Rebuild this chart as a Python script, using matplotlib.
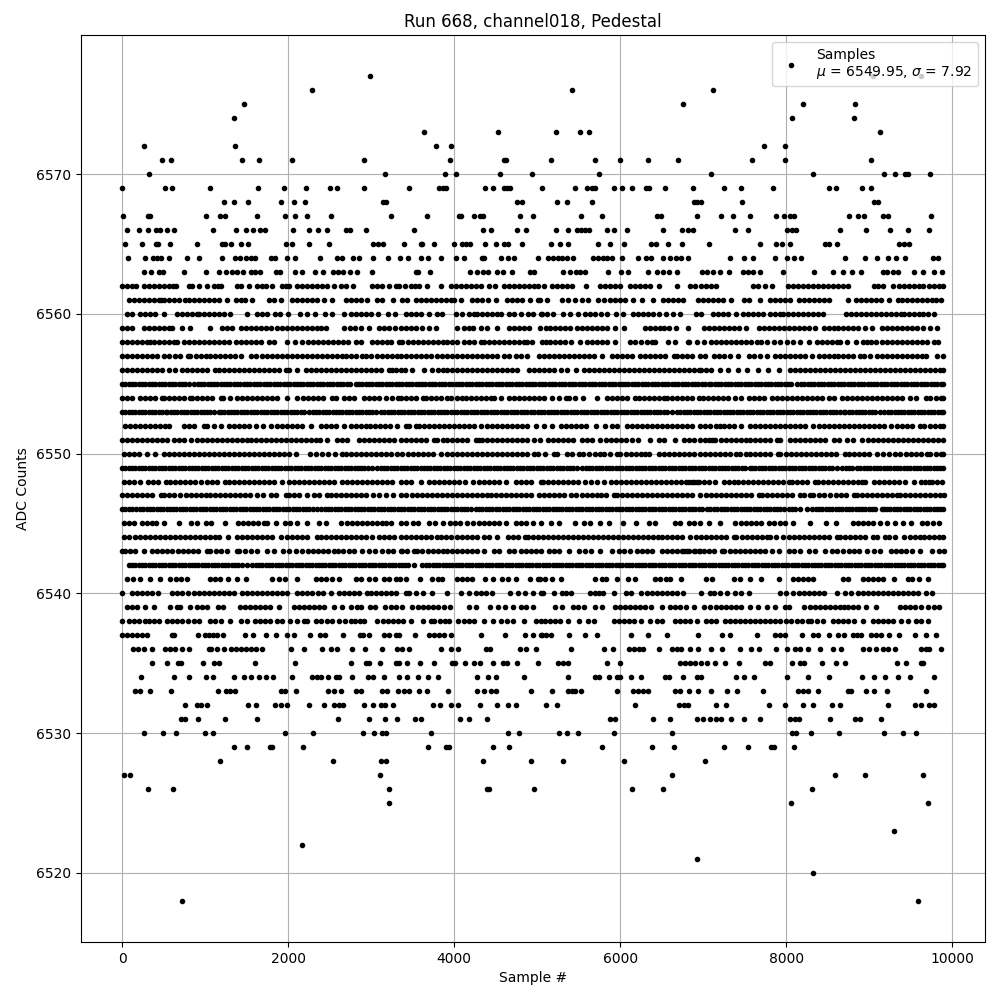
import matplotlib
matplotlib.use('Agg')
import matplotlib.pyplot as plt

# sample numbers, one list per ADC level
adc_6577 = [2987, 9042, 9623]
adc_6576 = [2287, 5423, 7118]
adc_6575 = [1467, 6757, 8200, 8826]
adc_6574 = [1347, 8068, 8814]
adc_6573 = [3638, 4530, 5230, 5519, 5627, 9126]
adc_6572 = [261, 1359, 3783, 3964, 7731, 7984]
adc_6571 = [478, 587, 1443, 1648, 2046, 2914, 3952, 4599, 4623, 5170, 5699, 6000, 6337, 6697, 7587, 7984, 9018]
adc_6570 = [322, 3168, 3891, 4024, 4555, 4941, 5748, 7094, 8321, 9174, 9307, 9427, 9463, 9727]
adc_6569 = [0, 515, 599, 1057, 1636, 1950, 2215, 2504, 2589, 2914, 3457, 3819, 3860, 3903, 4374, 4466, 4603, 4635,
            4675, 5062, 5459, 5595, 5655, 5699, 5924, 6020, 6144, 6309, 6349, 6541, 6878, 7250, 7455, 7840, 8513, 8597,
            8910, 9018]
adc_6568 = [1226, 1347, 1516, 1914, 2070, 2203, 3144, 3180, 4756, 4812, 5242, 5363, 5663, 6886, 6930, 6978, 7467, 9062,
            9102]
adc_6567 = [8, 310, 342, 1009, 1182, 1238, 1624, 1962, 2086, 2227, 2517, 3240, 3674, 4060, 4080, 4241, 4314, 4346, 4796,
            4953, 5531, 5784, 6445, 6497, 6926, 7218, 7359, 7563, 7876, 7972, 8040, 8100, 8754, 8862, 8942, 9170, 9222,
            9743]
adc_6566 = [60, 201, 310, 406, 454, 539, 623, 1093, 1371, 1491, 1576, 1660, 1721, 2058, 2251, 2360, 2468, 2697, 2746,
            2939, 3518, 4350, 4446, 4760, 4868, 5230, 5375, 5475, 5530, 5580, 5627, 5844, 5928, 6084, 6517, 6745, 6818,
            6878, 7383, 7539, 8012, 8065, 8120, 8645, 8958, 9246, 9463, 9715]
adc_6565 = [32, 237, 406, 430, 575, 900, 1202, 1234, 1310, 1431, 1516, 1974, 2050, 2251, 2492, 3019, 3080, 3140, 3397,
            3602, 3614, 3759, 4000, 4096, 4145, 4193, 4374, 4507, 4603, 4651, 4820, 5162, 5275, 5375, 5735, 5872, 6048,
            6377, 6437, 6577, 6745, 7070, 7679, 7880, 7948, 8044, 8469, 8521, 8609, 9363, 9420, 9483]
adc_6564 = [76, 273, 370, 422, 474, 563, 780, 925, 1202, 1359, 1419, 1491, 1548, 1596, 1789, 1837, 1986, 2082, 2384,
            2589, 2649, 2782, 2854, 3023, 3204, 3349, 3445, 3602, 3686, 3839, 4024, 4121, 4334, 4362, 4567, 4643, 4724,
            5013, 5134, 5190, 5250, 5300, 5355, 5435, 5675, 5730, 5788, 5836, 5896, 6024, 6216, 6317, 6377, 6517, 6605,
            6670, 6737, 6818, 7323, 7491, 7599, 7864, 8008, 8100, 8180, 8705, 8946, 9090, 9222, 9323, 9427, 9771, 9832]
adc_6563 = [261, 346, 442, 490, 740, 1009, 1166, 1250, 1323, 1379, 1455, 1548, 1600, 1656, 1857, 1897, 2086, 2167, 2324,
            2420, 2541, 2601, 2661, 2746, 2826, 3011, 3538, 3566, 3710, 4193, 4273, 4346, 4402, 4519, 4591, 4700, 4916,
            4964, 5315, 5395, 5467, 5520, 5575, 5856, 6008, 6096, 6337, 6445, 6515, 6589, 6685, 6982, 7050, 7118, 7202,
            7311, 7479, 7540, 7600, 7679, 7960, 8341, 8561, 8689, 8794, 8902, 9162, 9220, 9283, 9343, 9539, 9651, 9784,
            9876]
adc_6562 = [0, 60, 120, 169, 261, 320, 380, 440, 500, 560, 610, 655, 804, 844, 925, 1017, 1113, 1150, 1194, 1387, 1435,
            1528, 1620, 1680, 1729, 1805, 1930, 1975, 2014, 2110, 2170, 2230, 2290, 2350, 2410, 2470, 2553, 2633, 2693,
            2782, 3015, 3075, 3136, 3216, 3297, 3337, 3405, 3477, 3530, 3578, 3675, 3843, 3960, 4020, 4080, 4140, 4200,
            4260, 4322, 4422, 4494, 4603, 4665, 4725, 4785, 4845, 4905, 4960, 5005, 5082, 5174, 5235, 5295, 5355, 5415,
            5583, 5756, 5815, 5875, 5935, 5996, 6116, 6175, 6235, 6295, 6357, 6465, 6685, 6838, 6900, 6978, 7038, 7100,
            7158, 7599, 7659, 7739, 7832, 8020, 8080, 8140, 8200, 8260, 8320, 8380, 8440, 8500, 8560, 8620, 8680, 8741,
            9062, 9110, 9162, 9291, 9363, 9425, 9485, 9545, 9600, 9643, 9723, 9780, 9840, 9890]
adc_6561 = [80, 140, 200, 260, 320, 380, 440, 470, 502, 560, 620, 680, 752, 804, 864, 925, 985, 1045, 1105, 1165, 1266,
            1371, 1427, 1475, 1560, 1769, 1830, 1910, 2050, 2110, 2170, 2230, 2290, 2350, 2432, 2533, 2693, 2755, 2815,
            2874, 2955, 3075, 3136, 3268, 3377, 3429, 3538, 3600, 3660, 3719, 3779, 3840, 3900, 3960, 4000, 4080, 4221,
            4280, 4340, 4402, 4507, 4635, 4695, 4755, 4812, 4917, 5005, 5034, 5118, 5295, 5375, 5455, 5535, 5615, 5736,
            5800, 5876, 5936, 6000, 6060, 6156, 6265, 6397, 6517, 6580, 6640, 6700, 6757, 6938, 7000, 7060, 7120, 7180,
            7240, 7335, 7495, 7555, 7687, 7800, 7860, 7920, 7980, 8040, 8160, 8220, 8280, 8340, 8400, 8460, 8521, 8741,
            8841, 8900, 8960, 9020, 9080, 9140, 9242, 9342, 9400, 9460, 9520, 9580, 9640, 9700, 9760, 9804, 9864]
adc_6560 = [60, 120, 213, 281, 340, 402, 502, 663, 725, 785, 845, 904, 925, 985, 1045, 1105, 1165, 1225, 1298, 1507,
            1628, 1690, 1749, 1837, 1900, 1998, 2138, 2231, 2324, 2440, 2533, 2673, 2754, 2815, 2875, 2935, 2995, 3083,
            3204, 3288, 3417, 3480, 3540, 3600, 3698, 3799, 3859, 4020, 4100, 4181, 4241, 4281, 4340, 4400, 4460, 4520,
            4563, 4663, 4725, 4804, 4884, 4945, 5045, 5054, 5120, 5194, 5315, 5395, 5495, 5575, 5640, 5700, 5770, 5836,
            5948, 6036, 6156, 6220, 6280, 6340, 6397, 6469, 6549, 6637, 6717, 6918, 6978, 7118, 7180, 7240, 7300, 7399,
            7479, 7540, 7600, 7660, 7719, 7800, 7860, 7920, 7960, 8020, 8080, 8140, 8200, 8260, 8320, 8380, 8441, 8721,
            8780, 8840, 8900, 8960, 9020, 9080, 9140, 9200, 9260, 9320, 9383, 9423, 9480, 9540, 9600, 9643, 9703, 9784]
adc_6559 = [0, 60, 120, 261, 320, 380, 440, 500, 560, 603, 724, 816, 1057, 1206, 1266, 1326, 1427, 1490, 1550, 1610,
            1670, 1730, 1790, 1869, 1930, 1990, 2050, 2110, 2170, 2230, 2290, 2350, 2400, 2452, 2672, 2740, 2810, 2880,
            2974, 3095, 3160, 3220, 3290, 3357, 3420, 3477, 3537, 3618, 3698, 3778, 4039, 4119, 4180, 4231, 4319, 4400,
            4520, 4660, 4720, 4780, 4840, 4900, 5033, 5101, 5160, 5220, 5280, 5340, 5400, 5480, 5542, 5603, 5660, 5720,
            5780, 5843, 5943, 6043, 6304, 6365, 6420, 6480, 6530, 6585, 6669, 6814, 7007, 7070, 7130, 7190, 7250, 7310,
            7370, 7429, 7521, 7670, 7730, 7790, 7850, 7910, 7970, 8030, 8090, 8150, 8210, 8280, 8351, 8450, 8510, 8570,
            8630, 8690, 8750, 8810, 8870, 8950, 9030, 9150, 9210, 9270, 9330, 9390, 9450, 9510, 9570, 9650, 9735, 9815]
adc_6558 = [0, 60, 120, 180, 240, 300, 342, 382, 440, 500, 560, 620, 663, 744, 805, 865, 925, 985, 1045, 1105, 1165,
            1225, 1285, 1367, 1427, 1490, 1550, 1610, 1670, 1769, 1829, 1990, 2078, 2171, 2239, 2300, 2360, 2420, 2480,
            2540, 2600, 2660, 2720, 2814, 2874, 3015, 3075, 3135, 3196, 3236, 3337, 3377, 3440, 3500, 3560, 3620, 3680,
            3740, 3800, 3860, 3920, 3980, 4039, 4119, 4180, 4240, 4319, 4360, 4420, 4480, 4540, 4600, 4660, 4720, 4780,
            4840, 4881, 4941, 5061, 5101, 5160, 5220, 5280, 5340, 5402, 5522, 5603, 5663, 5720, 5780, 5840, 5943, 6116,
            6184, 6250, 6320, 6385, 6425, 6577, 6665, 6814, 6827, 6926, 7007, 7096, 7160, 7220, 7280, 7340, 7400, 7460,
            7520, 7580, 7650, 7697, 7770, 7850, 7922, 8010, 8082, 8162, 8270, 8370, 8430, 8490, 8550, 8612, 8644, 8732,
            8844, 8930, 8972, 9020, 9080, 9153, 9213, 9275, 9335, 9395, 9455, 9515, 9575, 9635, 9695, 9775, 9823]
adc_6557 = [0, 60, 120, 180, 240, 300, 360, 420, 503, 563, 643, 703, 792, 824, 885, 945, 1005, 1065, 1125, 1185, 1245,
            1305, 1365, 1427, 1548, 1608, 1688, 1750, 1810, 1870, 1930, 1990, 2050, 2110, 2170, 2230, 2290, 2350, 2410,
            2470, 2530, 2590, 2653, 2693, 2755, 2815, 2894, 2934, 2994, 3075, 3135, 3195, 3255, 3315, 3357, 3420, 3480,
            3540, 3600, 3660, 3718, 3798, 3858, 3920, 3980, 4040, 4100, 4160, 4220, 4280, 4340, 4400, 4460, 4520, 4600,
            4660, 4740, 4800, 4873, 5021, 5080, 5140, 5200, 5260, 5320, 5380, 5440, 5500, 5560, 5620, 5680, 5783, 5903,
            5965, 6025, 6085, 6145, 6236, 6304, 6365, 6425, 6485, 6545, 6645, 6685, 6745, 6805, 6865, 6966, 7028, 7128,
            7190, 7250, 7328, 7421, 7549, 7610, 7680, 7770, 7870, 7930, 7990, 8050, 8110, 8170, 8230, 8310, 8391, 8450,
            8510, 8570, 8630, 8690, 8750, 8810, 8893, 8933, 9013, 9093, 9155, 9215, 9275, 9335, 9395, 9455, 9515, 9575,
            9634, 9686, 9815, 9895]
adc_6556 = [0, 60, 120, 180, 240, 300, 360, 422, 478, 563, 643, 724, 785, 845, 905, 965, 1025, 1125, 1166, 1226, 1290,
            1350, 1410, 1470, 1530, 1590, 1650, 1710, 1770, 1830, 1890, 1970, 2010, 2110, 2211, 2271, 2335, 2395, 2455,
            2515, 2575, 2635, 2695, 2755, 2815, 2875, 2935, 2995, 3055, 3115, 3216, 3256, 3297, 3357, 3405, 3497, 3638,
            3738, 3800, 3860, 3920, 3980, 4040, 4100, 4160, 4220, 4280, 4340, 4400, 4460, 4520, 4580, 4640, 4700, 4760,
            4901, 4965, 5025, 5085, 5145, 5205, 5282, 5354, 5462, 5562, 5623, 5685, 5745, 5805, 5865, 5925, 5985, 6045,
            6105, 6165, 6225, 6285, 6345, 6405, 6465, 6525, 6585, 6645, 6705, 6765, 6825, 6885, 6948, 6976, 7040, 7100,
            7200, 7300, 7417, 7529, 7657, 7777, 7910, 8050, 8110, 8170, 8230, 8290, 8350, 8410, 8470, 8530, 8590, 8650,
            8710, 8770, 8830, 8890, 8950, 9010, 9070, 9130, 9190, 9250, 9310, 9370, 9430, 9490, 9550, 9610, 9670, 9730,
            9790, 9850, 9895]
adc_6555 = [0, 40, 80, 120, 160, 200, 240, 280, 320, 360, 400, 440, 480, 520, 560, 600, 640, 680, 720, 763, 804, 864,
            912, 950, 990, 1030, 1070, 1110, 1145, 1186, 1225, 1265, 1305, 1345, 1385, 1425, 1465, 1505, 1545, 1585,
            1625, 1665, 1705, 1745, 1785, 1825, 1865, 1905, 1945, 1985, 2025, 2065, 2105, 2145, 2185, 2225, 2265, 2305,
            2345, 2385, 2425, 2465, 2505, 2545, 2585, 2625, 2665, 2705, 2745, 2814, 2854, 2895, 2935, 2975, 3015, 3055,
            3095, 3135, 3175, 3215, 3255, 3295, 3335, 3375, 3415, 3455, 3495, 3535, 3575, 3615, 3655, 3695, 3735, 3775,
            3815, 3855, 3895, 3935, 3979, 4019, 4060, 4100, 4140, 4180, 4220, 4260, 4300, 4340, 4380, 4420, 4460, 4500,
            4540, 4580, 4620, 4660, 4700, 4740, 4780, 4820, 4860, 4900, 4940, 4980, 5020, 5060, 5100, 5140, 5180, 5220,
            5260, 5300, 5340, 5380, 5420, 5460, 5500, 5540, 5580, 5620, 5660, 5700, 5740, 5780, 5820, 5860, 5900, 5940,
            5980, 6020, 6060, 6100, 6140, 6180, 6220, 6260, 6300, 6340, 6380, 6420, 6460, 6500, 6540, 6580, 6620, 6660,
            6700, 6740, 6780, 6820, 6860, 6900, 6940, 6980, 7020, 7068, 7096, 7140, 7180, 7220, 7260, 7300, 7340, 7380,
            7420, 7460, 7500, 7540, 7580, 7620, 7660, 7700, 7740, 7780, 7820, 7860, 7900, 7940, 7980, 8020, 8060, 8130,
            8179, 8220, 8260, 8300, 8340, 8380, 8420, 8460, 8500, 8540, 8580, 8620, 8660, 8700, 8740, 8780, 8820, 8860,
            8900, 8940, 8980, 9020, 9060, 9100, 9140, 9180, 9220, 9260, 9300, 9340, 9380, 9420, 9460, 9500, 9540, 9580,
            9620, 9660, 9700, 9740, 9780, 9820, 9860, 9895]
adc_6554 = [0, 60, 120, 221, 281, 340, 400, 482, 503, 565, 625, 685, 745, 816, 844, 905, 965, 1025, 1085, 1186, 1218,
            1300, 1387, 1447, 1510, 1570, 1630, 1690, 1750, 1810, 1870, 1990, 2110, 2175, 2235, 2295, 2355, 2415, 2533,
            2581, 2673, 2735, 2795, 2914, 2974, 3035, 3095, 3176, 3256, 3320, 3357, 3420, 3480, 3540, 3630, 3658, 3720,
            3780, 3840, 3918, 3958, 4030, 4099, 4139, 4200, 4260, 4320, 4380, 4440, 4480, 4560, 4660, 4720, 4780, 4840,
            4900, 4960, 5020, 5080, 5182, 5262, 5342, 5382, 5450, 5555, 5723, 5843, 5905, 5965, 6025, 6085, 6184, 6224,
            6285, 6345, 6405, 6465, 6525, 6565, 6630, 6690, 6750, 6810, 6870, 6946, 7000, 7060, 7120, 7180, 7240, 7300,
            7389, 7457, 7549, 7610, 7670, 7730, 7830, 7890, 7950, 8010, 8070, 8130, 8190, 8250, 8310, 8370, 8430, 8511,
            8572, 8672, 8735, 8795, 8855, 8915, 8975, 9035, 9095, 9155, 9215, 9275, 9335, 9395, 9494, 9562, 9682, 9735,
            9800, 9860, 9895]
adc_6553 = [0, 40, 80, 120, 160, 200, 240, 280, 320, 360, 400, 440, 480, 523, 543, 585, 625, 665, 705, 745, 785, 825,
            865, 905, 945, 985, 1025, 1065, 1105, 1166, 1186, 1230, 1270, 1310, 1350, 1390, 1430, 1470, 1510, 1550,
            1590, 1630, 1670, 1710, 1750, 1790, 1830, 1870, 1910, 1950, 1990, 2030, 2070, 2110, 2150, 2191, 2251, 2295,
            2335, 2375, 2415, 2455, 2495, 2535, 2575, 2615, 2655, 2695, 2735, 2775, 2815, 2855, 2895, 2935, 2975, 3015,
            3055, 3115, 3156, 3200, 3240, 3280, 3320, 3360, 3400, 3440, 3480, 3520, 3560, 3600, 3640, 3680, 3720, 3760,
            3800, 3840, 3880, 3920, 3960, 4000, 4040, 4080, 4120, 4160, 4200, 4240, 4280, 4320, 4360, 4400, 4440, 4480,
            4520, 4560, 4600, 4640, 4680, 4720, 4760, 4800, 4840, 4881, 4921, 4965, 5005, 5045, 5085, 5125, 5165, 5205,
            5245, 5285, 5325, 5365, 5405, 5445, 5485, 5525, 5565, 5605, 5645, 5685, 5725, 5765, 5805, 5845, 5885, 5925,
            5965, 6005, 6045, 6085, 6125, 6165, 6205, 6245, 6285, 6325, 6365, 6405, 6445, 6485, 6525, 6565, 6625, 6685,
            6725, 6765, 6805, 6845, 6885, 6925, 6965, 7005, 7045, 7085, 7125, 7165, 7205, 7245, 7285, 7325, 7365, 7405,
            7445, 7485, 7525, 7565, 7605, 7645, 7685, 7725, 7765, 7805, 7845, 7885, 7925, 7965, 8005, 8045, 8085, 8125,
            8165, 8205, 8245, 8285, 8325, 8365, 8405, 8445, 8485, 8525, 8565, 8605, 8645, 8692, 8712, 8755, 8795, 8835,
            8875, 8915, 8955, 8995, 9035, 9075, 9133, 9181, 9225, 9265, 9305, 9345, 9385, 9425, 9465, 9505, 9545, 9585,
            9625, 9665, 9705, 9745, 9785, 9825, 9865, 9895]
adc_6552 = [40, 100, 160, 220, 280, 340, 400, 460, 520, 563, 744, 805, 865, 985, 1025, 1105, 1186, 1286, 1347, 1410,
            1467, 1527, 1608, 1696, 1797, 1869, 1930, 1990, 2050, 2110, 2170, 2271, 2392, 2455, 2515, 2575, 2673, 2753,
            2815, 2875, 2934, 2987, 3050, 3110, 3170, 3230, 3317, 3417, 3457, 3537, 3577, 3638, 3700, 3760, 3820, 3880,
            3940, 4000, 4060, 4120, 4180, 4240, 4319, 4400, 4460, 4520, 4580, 4640, 4700, 4760, 4820, 4880, 4981, 5081,
            5182, 5282, 5345, 5405, 5465, 5525, 5585, 5703, 5815, 5903, 5965, 6084, 6144, 6205, 6265, 6325, 6385, 6445,
            6505, 6565, 6625, 6685, 6745, 6805, 6865, 6966, 7020, 7080, 7160, 7208, 7248, 7310, 7370, 7461, 7569, 7630,
            7690, 7750, 7810, 7870, 7930, 7990, 8050, 8110, 8170, 8230, 8323, 8391, 8455, 8515, 8575, 8635, 8695, 8755,
            8815, 8875, 8935, 8995, 9055, 9115, 9175, 9265, 9333, 9394, 9455, 9515, 9614, 9666, 9730, 9790, 9850, 9895]
adc_6551 = [0, 60, 120, 180, 240, 300, 360, 422, 482, 545, 623, 683, 745, 832, 904, 965, 1025, 1085, 1145, 1205, 1265,
            1325, 1385, 1445, 1508, 1548, 1610, 1670, 1730, 1790, 1850, 1910, 1970, 2030, 2090, 2150, 2210, 2270, 2330,
            2390, 2473, 2593, 2655, 2715, 2854, 2914, 2975, 3035, 3095, 3155, 3215, 3275, 3357, 3417, 3477, 3540, 3600,
            3660, 3758, 3798, 3860, 3920, 3980, 4040, 4100, 4160, 4259, 4299, 4340, 4400, 4460, 4520, 4580, 4640, 4700,
            4760, 4820, 4880, 4961, 5033, 5130, 5194, 5255, 5315, 5375, 5435, 5542, 5603, 5665, 5763, 5835, 5895, 5955,
            6015, 6075, 6144, 6212, 6365, 6465, 6525, 6665, 6766, 6830, 6890, 6966, 7020, 7068, 7108, 7148, 7210, 7270,
            7330, 7390, 7450, 7510, 7570, 7630, 7690, 7750, 7810, 7890, 7930, 8050, 8110, 8170, 8230, 8290, 8350, 8410,
            8470, 8572, 8632, 8732, 8804, 8912, 8981, 9045, 9105, 9165, 9225, 9285, 9345, 9405, 9465, 9525, 9585, 9645,
            9705, 9765, 9825, 9895]
adc_6550 = [20, 80, 140, 200, 301, 394, 510, 570, 630, 690, 750, 810, 870, 930, 990, 1050, 1110, 1170, 1230, 1290, 1350,
            1410, 1470, 1530, 1590, 1650, 1710, 1770, 1830, 1890, 1950, 2010, 2090, 2263, 2330, 2412, 2480, 2560, 2653,
            2693, 2755, 2815, 2875, 2935, 2995, 3055, 3115, 3175, 3235, 3316, 3377, 3440, 3500, 3560, 3620, 3680, 3740,
            3838, 3918, 3980, 4040, 4100, 4160, 4220, 4280, 4340, 4400, 4460, 4512, 4575, 4635, 4695, 4755, 4815, 4875,
            4961, 5009, 5100, 5202, 5242, 5354, 5422, 5502, 5554, 5623, 5700, 5763, 5803, 5880, 5963, 6003, 6065, 6125,
            6185, 6245, 6304, 6345, 6465, 6525, 6590, 6650, 6710, 6770, 6830, 6890, 6966, 7016, 7080, 7140, 7200, 7260,
            7320, 7401, 7449, 7510, 7570, 7630, 7690, 7750, 7810, 7898, 7930, 7995, 8055, 8115, 8175, 8235, 8295, 8355,
            8415, 8475, 8535, 8595, 8712, 8752, 8815, 8875, 8935, 8995, 9093, 9165, 9240, 9314, 9374, 9440, 9500, 9560,
            9620, 9694, 9735, 9800, 9860, 9895]
adc_6549 = [0, 40, 80, 120, 160, 200, 240, 280, 320, 360, 400, 440, 480, 520, 560, 600, 640, 680, 720, 760, 800, 840,
            880, 920, 960, 1000, 1040, 1080, 1120, 1160, 1200, 1240, 1280, 1320, 1360, 1400, 1440, 1480, 1520, 1560,
            1600, 1640, 1680, 1720, 1760, 1800, 1840, 1880, 1920, 1960, 2000, 2040, 2080, 2120, 2160, 2200, 2240, 2280,
            2320, 2360, 2400, 2440, 2480, 2520, 2560, 2600, 2640, 2680, 2720, 2760, 2800, 2840, 2880, 2920, 2960, 3015,
            3075, 3115, 3155, 3195, 3235, 3275, 3315, 3355, 3395, 3435, 3475, 3515, 3555, 3595, 3635, 3675, 3715, 3755,
            3795, 3835, 3875, 3915, 3955, 3995, 4035, 4075, 4115, 4155, 4195, 4235, 4275, 4315, 4355, 4395, 4435, 4475,
            4515, 4555, 4595, 4635, 4675, 4715, 4755, 4795, 4835, 4875, 4915, 4955, 4995, 5035, 5075, 5115, 5155, 5195,
            5235, 5275, 5315, 5355, 5395, 5435, 5482, 5542, 5585, 5625, 5665, 5705, 5745, 5785, 5825, 5865, 5905, 5945,
            5985, 6025, 6065, 6105, 6145, 6185, 6225, 6265, 6305, 6345, 6385, 6425, 6465, 6505, 6545, 6585, 6625, 6665,
            6705, 6745, 6785, 6825, 6865, 6905, 6945, 6985, 7025, 7065, 7105, 7145, 7185, 7225, 7265, 7305, 7345, 7385,
            7425, 7465, 7505, 7569, 7589, 7630, 7670, 7710, 7750, 7790, 7830, 7870, 7910, 7950, 7990, 8030, 8070, 8110,
            8150, 8190, 8230, 8270, 8310, 8350, 8390, 8430, 8470, 8510, 8550, 8612, 8672, 8715, 8755, 8795, 8852, 8893,
            8935, 8975, 9015, 9055, 9095, 9135, 9175, 9215, 9255, 9295, 9335, 9375, 9415, 9455, 9495, 9535, 9575, 9615,
            9655, 9695, 9735, 9775, 9815, 9855, 9895]
adc_6548 = [20, 80, 140, 213, 310, 370, 430, 523, 575, 640, 700, 760, 820, 880, 945, 1025, 1085, 1145, 1234, 1286, 1350,
            1410, 1470, 1530, 1590, 1650, 1710, 1770, 1830, 1930, 2010, 2075, 2135, 2195, 2255, 2315, 2375, 2435, 2495,
            2555, 2653, 2713, 2775, 2835, 2895, 2955, 3015, 3075, 3135, 3195, 3255, 3357, 3420, 3480, 3598, 3698, 3760,
            3820, 3880, 3940, 4000, 4060, 4127, 4231, 4295, 4355, 4415, 4475, 4535, 4620, 4740, 4808, 4870, 4930, 5041,
            5073, 5135, 5195, 5255, 5315, 5375, 5435, 5495, 5582, 5651, 5720, 5803, 5891, 5955, 6015, 6075, 6135, 6195,
            6255, 6315, 6375, 6435, 6495, 6555, 6615, 6675, 6735, 6795, 6866, 6926, 6827, 6890, 6950, 7010, 7070, 7148,
            7248, 7310, 7377, 7417, 7480, 7540, 7600, 7660, 7720, 7780, 7840, 7900, 7960, 8030, 8070, 8135, 8195, 8255,
            8351, 8379, 8440, 8500, 8560, 8620, 8680, 8740, 8800, 8860, 8912, 8953, 9053, 9113, 9173, 9235, 9295, 9355,
            9434, 9534, 9622, 9670, 9715, 9755, 9815, 9875]
adc_6547 = [0, 60, 120, 180, 240, 300, 360, 470, 503, 565, 625, 703, 764, 825, 885, 945, 1005, 1065, 1125, 1185, 1245,
            1305, 1365, 1425, 1485, 1545, 1628, 1696, 1797, 1860, 1970, 2010, 2075, 2135, 2223, 2311, 2375, 2473, 2512,
            2575, 2635, 2695, 2755, 2815, 2875, 2935, 3025, 3095, 3184, 3268, 3357, 3420, 3497, 3549, 3610, 3670, 3730,
            3790, 3850, 3910, 3970, 4030, 4090, 4150, 4210, 4270, 4330, 4400, 4440, 4505, 4565, 4625, 4685, 4745, 4805,
            4865, 4925, 5021, 5081, 5145, 5205, 5265, 5325, 5402, 5474, 5535, 5595, 5655, 5715, 5775, 5835, 5923, 5963,
            6025, 6085, 6145, 6205, 6265, 6325, 6385, 6445, 6505, 6565, 6625, 6685, 6745, 6805, 6865, 6966, 7040, 7100,
            7160, 7220, 7280, 7340, 7400, 7460, 7520, 7580, 7669, 7709, 7770, 7830, 7890, 7950, 8010, 8070, 8162, 8219,
            8283, 8323, 8390, 8451, 8531, 8595, 8655, 8715, 8812, 8852, 8915, 8975, 9035, 9095, 9155, 9215, 9275, 9334,
            9374, 9435, 9495, 9555, 9615, 9675, 9735, 9795, 9855, 9900]
adc_6546 = [0, 40, 80, 120, 173, 213, 255, 295, 335, 375, 415, 455, 495, 535, 575, 615, 655, 695, 735, 775, 815, 855,
            895, 935, 975, 1015, 1055, 1095, 1135, 1175, 1215, 1255, 1295, 1335, 1375, 1415, 1455, 1495, 1535, 1575,
            1615, 1655, 1695, 1735, 1775, 1815, 1855, 1895, 1935, 1975, 2015, 2055, 2095, 2135, 2175, 2215, 2255, 2295,
            2352, 2392, 2440, 2480, 2520, 2560, 2600, 2640, 2680, 2720, 2760, 2800, 2840, 2880, 2920, 2960, 3000, 3040,
            3080, 3120, 3160, 3200, 3240, 3280, 3320, 3360, 3400, 3440, 3480, 3520, 3560, 3600, 3640, 3680, 3720, 3760,
            3800, 3840, 3880, 3920, 3960, 4000, 4040, 4080, 4120, 4160, 4199, 4259, 4300, 4340, 4380, 4420, 4460, 4500,
            4545, 4585, 4625, 4665, 4705, 4745, 4785, 4825, 4865, 4905, 4945, 4985, 5025, 5065, 5105, 5145, 5185, 5225,
            5265, 5305, 5345, 5385, 5425, 5465, 5505, 5545, 5585, 5625, 5665, 5705, 5745, 5785, 5825, 5865, 5905, 5945,
            5983, 6024, 6065, 6105, 6145, 6185, 6225, 6265, 6305, 6345, 6385, 6425, 6465, 6505, 6545, 6585, 6625, 6665,
            6705, 6745, 6785, 6825, 6865, 6905, 6945, 6985, 7048, 7088, 7128, 7170, 7210, 7250, 7290, 7330, 7370, 7410,
            7450, 7490, 7530, 7570, 7610, 7650, 7690, 7730, 7770, 7810, 7850, 7890, 7930, 7970, 8030, 8070, 8110, 8162,
            8251, 8311, 8355, 8395, 8435, 8475, 8515, 8555, 8595, 8635, 8675, 8715, 8755, 8795, 8835, 8875, 8915, 8955,
            8995, 9035, 9075, 9153, 9173, 9215, 9255, 9295, 9335, 9375, 9415, 9455, 9495, 9535, 9575, 9615, 9655, 9695,
            9735, 9775, 9815, 9855, 9895]
adc_6545 = [20, 80, 140, 241, 301, 360, 414, 502, 683, 832, 900, 1005, 1073, 1234, 1395, 1460, 1520, 1580, 1640, 1709,
            1749, 1857, 1958, 2025, 2110, 2223, 2372, 2452, 2641, 2705, 2765, 2825, 2885, 2945, 3005, 3065, 3125, 3185,
            3245, 3357, 3420, 3509, 3565, 3698, 3770, 3870, 3950, 4007, 4075, 4159, 4231, 4295, 4355, 4415, 4475, 4535,
            4620, 4740, 4800, 4860, 4953, 5041, 5162, 5262, 5450, 5570, 5635, 5763, 5863, 6032, 6196, 6345, 6425, 6665,
            6725, 6826, 6890, 6966, 7068, 7208, 7389, 7455, 7515, 7575, 7635, 7695, 7790, 7858, 7925, 7985, 8082, 8291,
            8479, 8604, 8804, 8870, 8930, 8990, 9050, 9133, 9213, 9314, 9405, 9502, 9634, 9700, 9767, 9835]
adc_6544 = [20, 80, 161, 213, 275, 335, 395, 455, 515, 575, 635, 695, 755, 815, 875, 935, 995, 1055, 1115, 1166, 1274,
            1379, 1445, 1505, 1565, 1625, 1685, 1745, 1805, 1909, 1982, 2045, 2105, 2165, 2225, 2352, 2392, 2455, 2515,
            2575, 2635, 2695, 2755, 2815, 2875, 2934, 3015, 3095, 3160, 3220, 3280, 3357, 3420, 3480, 3540, 3600, 3660,
            3720, 3790, 3838, 3898, 3966, 4030, 4090, 4150, 4210, 4270, 4360, 4420, 4520, 4648, 4710, 4770, 4849, 4889,
            4950, 5010, 5070, 5130, 5190, 5250, 5310, 5370, 5430, 5490, 5550, 5610, 5670, 5730, 5790, 5850, 5910, 5970,
            6030, 6090, 6150, 6210, 6270, 6330, 6390, 6450, 6510, 6570, 6630, 6690, 6747, 6847, 6910, 6970, 7030, 7090,
            7150, 7210, 7270, 7369, 7401, 7465, 7525, 7585, 7645, 7705, 7770, 7810, 7875, 7962, 8030, 8095, 8155, 8215,
            8275, 8335, 8395, 8455, 8515, 8612, 8644, 8710, 8770, 8830, 8890, 8950, 9045, 9093, 9193, 9233, 9314, 9421,
            9494, 9555, 9606, 9662, 9725, 9785, 9845, 9895]
adc_6543 = [0, 40, 100, 160, 261, 362, 425, 485, 545, 603, 671, 735, 795, 855, 915, 1025, 1065, 1130, 1190, 1266, 1379,
            1407, 1475, 1556, 1628, 1749, 1829, 1942, 2010, 2090, 2171, 2235, 2295, 2355, 2415, 2475, 2553, 2601, 2665,
            2730, 2794, 2894, 2974, 3043, 3136, 3200, 3260, 3357, 3377, 3437, 3517, 3557, 3618, 3680, 3740, 3800, 3860,
            3920, 3980, 4040, 4100, 4160, 4220, 4280, 4360, 4480, 4545, 4660, 4720, 4808, 4870, 4930, 4990, 5050, 5142,
            5202, 5265, 5382, 5502, 5582, 5651, 5763, 5903, 5983, 6050, 6116, 6204, 6265, 6325, 6385, 6505, 6570, 6630,
            6690, 6766, 6826, 6890, 6966, 6747, 6810, 6907, 6948, 7010, 7070, 7130, 7228, 7256, 7320, 7380, 7440, 7500,
            7560, 7620, 7680, 7740, 7830, 7910, 8030, 8095, 8170, 8271, 8351, 8471, 8551, 8612, 8680, 8752, 8812, 8880,
            8972, 9053, 9133, 9261, 9325, 9385, 9445, 9514, 9606, 9755, 9835, 9900]
adc_6542 = [80, 120, 160, 200, 240, 280, 320, 360, 400, 440, 480, 520, 560, 600, 640, 680, 720, 760, 800, 840, 880, 920,
            960, 1000, 1040, 1080, 1120, 1160, 1200, 1240, 1280, 1320, 1360, 1400, 1440, 1507, 1568, 1610, 1650, 1690,
            1730, 1770, 1810, 1850, 1890, 1930, 1970, 2010, 2050, 2090, 2130, 2170, 2210, 2250, 2290, 2330, 2370, 2410,
            2450, 2490, 2530, 2570, 2610, 2650, 2690, 2730, 2770, 2810, 2850, 2890, 2930, 2970, 3010, 3050, 3090, 3130,
            3170, 3210, 3250, 3290, 3330, 3370, 3410, 3450, 3517, 3618, 3660, 3700, 3740, 3780, 3820, 3860, 3900, 3940,
            3980, 4020, 4060, 4100, 4140, 4180, 4220, 4260, 4300, 4340, 4380, 4420, 4460, 4500, 4540, 4580, 4620, 4660,
            4700, 4740, 4780, 4820, 4860, 4900, 4941, 4981, 5025, 5065, 5105, 5145, 5185, 5225, 5265, 5305, 5345, 5385,
            5425, 5465, 5505, 5545, 5585, 5625, 5665, 5705, 5745, 5785, 5825, 5865, 5905, 5945, 5985, 6025, 6065, 6105,
            6145, 6185, 6225, 6265, 6305, 6345, 6385, 6425, 6465, 6505, 6545, 6585, 6625, 6665, 6705, 6745, 6785, 6825,
            6865, 6905, 6945, 6985, 7025, 7065, 7105, 7145, 7185, 7225, 7265, 7305, 7345, 7385, 7425, 7465, 7505, 7545,
            7585, 7625, 7665, 7705, 7745, 7785, 7825, 7865, 7905, 7945, 7985, 8025, 8065, 8105, 8145, 8185, 8225, 8265,
            8305, 8345, 8385, 8425, 8465, 8505, 8545, 8585, 8625, 8665, 8705, 8745, 8785, 8825, 8865, 8905, 8945, 8985,
            9025, 9065, 9105, 9145, 9185, 9225, 9265, 9305, 9345, 9385, 9425, 9465, 9505, 9545, 9585, 9625, 9665, 9705,
            9745, 9785, 9825, 9865, 9895]
adc_6541 = [60, 130, 213, 342, 462, 583, 650, 710, 776, 1057, 1120, 1180, 1274, 1383, 1491, 1809, 1889, 1962, 2110, 2332,
            2395, 2455, 2530, 2613, 2814, 2874, 2975, 3043, 3156, 3220, 3297, 3345, 3417, 3589, 3738, 3800, 3859, 4040,
            4100, 4160, 4213, 4374, 4470, 4582, 4651, 4745, 4917, 5013, 5034, 5100, 5174, 5283, 5695, 5776, 5828, 5956,
            6096, 6184, 6417, 6480, 6557, 6605, 6737, 7030, 7106, 7371, 7439, 7567, 7695, 7912, 8080, 8140, 8200, 8260,
            8321, 8680, 8741, 8922, 8985, 9045, 9105, 9162, 9295, 9463, 9515, 9595, 9703]
adc_6540 = [0, 121, 185, 245, 305, 362, 430, 603, 665, 725, 792, 864, 925, 985, 1045, 1105, 1165, 1225, 1285, 1347,
            1447, 1510, 1570, 1630, 1690, 1750, 1810, 1870, 1930, 1990, 2110, 2170, 2223, 2291, 2355, 2415, 2513, 2613,
            2675, 2735, 2795, 2855, 2955, 2995, 3060, 3120, 3180, 3240, 3300, 3417, 3457, 3538, 3630, 3739, 3920, 4088,
            4181, 4261, 4322, 4385, 4462, 4675, 4764, 4852, 4945, 5045, 5074, 5202, 5295, 5350, 5403, 5635, 5695, 5745,
            5796, 5928, 6076, 6136, 6257, 6320, 6380, 6440, 6500, 6560, 6620, 6680, 6757, 6978, 7078, 7135, 7198, 7287,
            7379, 7459, 7551, 7928, 8000, 8080, 8152, 8220, 8272, 8340, 8400, 8461, 8609, 8713, 8782, 8862, 8925, 8985,
            9045, 9105, 9165, 9225, 9285, 9345, 9405, 9465, 9525, 9585, 9683, 9751]
adc_6539 = [60, 120, 180, 281, 390, 575, 663, 703, 816, 904, 960, 1017, 1154, 1218, 1419, 1480, 1540, 1600, 1660, 1720,
            1780, 1889, 2070, 2135, 2195, 2255, 2315, 2375, 2435, 2553, 2653, 2754, 2826, 2874, 2987, 3043, 3168, 3236,
            3297, 3377, 3498, 3560, 3620, 3680, 3740, 3800, 3879, 3952, 4181, 4265, 4434, 4523, 4615, 4715, 4804, 4870,
            4945, 5214, 5295, 5435, 5495, 5567, 5695, 5776, 5936, 6000, 6060, 6120, 6180, 6240, 6300, 6377, 6505, 6597,
            6660, 6717, 6798, 6890, 7006, 7078, 7158, 7220, 7280, 7340, 7400, 7459, 7559, 7659, 7767, 7868, 7980, 8032,
            8220, 8285, 8345, 8405, 8465, 8525, 8585, 8645, 8701, 8741, 8800, 8862, 8962, 9082, 9371, 9435, 9495, 9555,
            9623, 9703, 9784, 9844]
adc_6538 = [0, 80, 141, 201, 281, 322, 385, 445, 543, 603, 665, 724, 792, 864, 925, 1065, 1125, 1186, 1298, 1427, 1507,
            1596, 1660, 1720, 1780, 1869, 1930, 2018, 2110, 2191, 2231, 2332, 2392, 2472, 2533, 2613, 2680, 2754, 2802,
            2860, 2915, 3075, 3140, 3200, 3260, 3320, 3380, 3477, 3630, 3719, 3759, 3831, 3885, 3940, 4049, 4121, 4180,
            4241, 4362, 4470, 4563, 4640, 4715, 4844, 4985, 5045, 5094, 5160, 5220, 5280, 5375, 5503, 5615, 5687, 5924,
            5990, 6050, 6110, 6170, 6257, 6365, 6440, 6509, 6657, 6720, 6780, 6840, 6926, 7038, 7100, 7160, 7258, 7319,
            7385, 7445, 7505, 7565, 7625, 7685, 7745, 7805, 7865, 7925, 8000, 8060, 8125, 8190, 8261, 8301, 8370, 8441,
            8561, 8625, 8685, 8741, 8822, 8922, 9042, 9105, 9165, 9225, 9285, 9383, 9463, 9563, 9630, 9703]
adc_6537 = [0, 60, 120, 180, 241, 302, 603, 631, 913, 993, 1050, 1100, 1146, 1214, 1479, 1580, 1737, 1857, 1990, 2070,
            2263, 2384, 2440, 2661, 2866, 2906, 2975, 3156, 3220, 3297, 3337, 3530, 3698, 3760, 3820, 3880, 3960, 4322,
            4615, 4852, 4953, 5045, 5054, 5110, 5162, 5387, 5575, 5723, 6136, 6337, 6565, 6938, 7226, 7327, 7647, 7860,
            7920, 7980, 8188, 8329, 8381, 8513, 8621, 8701, 8802, 8850, 8902, 9022, 9080, 9142, 9234, 9363, 9551, 9683,
            9804]
adc_6536 = [129, 190, 261, 358, 515, 580, 640, 724, 808, 1045, 1073, 1146, 1226, 1306, 1370, 1430, 1490, 1550, 1610,
            1688, 2030, 2191, 2412, 2513, 2585, 2774, 2927, 3136, 3309, 3375, 3457, 3839, 3968, 4048, 4382, 4434, 4796,
            4864, 4989, 5402, 5808, 5908, 6108, 6170, 6230, 6277, 6465, 6629, 6680, 6737, 6838, 6938, 7098, 7230, 7439,
            7579, 7671, 7880, 8008, 8108, 8170, 8261, 8405, 8561, 8661, 8922, 9002, 9082, 9162, 9225, 9315, 9623, 9680,
            9723, 9864]
adc_6535 = [358, 539, 671, 711, 973, 1105, 1166, 1600, 2082, 2758, 2935, 2975, 3107, 3296, 3337, 3438, 3583, 3759, 3980,
            4008, 4133, 4241, 4314, 4474, 4583, 4635, 4756, 5005, 5254, 5315, 5375, 5844, 6000, 6717, 6780, 6840, 6900,
            6978, 7046, 7146, 7263, 7431, 7748, 7808, 8068, 8168, 8220, 8429, 8601, 8705, 9331, 9439, 9623, 9643]
adc_6534 = [225, 623, 804, 1005, 1097, 1343, 1467, 1552, 1648, 1733, 1821, 2046, 2291, 2345, 2392, 2476, 2573, 2613,
            2770, 2967, 3023, 3156, 3337, 3433, 3566, 3683, 3807, 4277, 4402, 4506, 4844, 5375, 5695, 5748, 5868, 5956,
            5996, 6136, 6257, 6537, 6589, 6757, 6926, 6978, 7399, 7487, 7611, 8008, 8261, 8513, 8914, 9054, 9186, 9342,
            9487, 9776]
adc_6533 = [161, 221, 334, 587, 1154, 1246, 1299, 1359, 1910, 1958, 2094, 2480, 2553, 2637, 2814, 2874, 3128, 3188,
            3325, 3390, 3458, 3578, 3675, 3928, 4277, 4362, 4442, 4502, 4929, 5182, 5375, 5415, 5455, 5531, 5964, 6156,
            6215, 6275, 6337, 6657, 6717, 6830, 6938, 7098, 7287, 7407, 7719, 8140, 8200, 8261, 8381, 8741, 8782, 8962,
            9054, 9210, 9679]
adc_6532 = [756, 905, 945, 1021, 1516, 1612, 1841, 1910, 1986, 2251, 2432, 2553, 2613, 2665, 2914, 3023, 3115, 3164,
            3264, 3747, 3827, 3960, 4048, 4314, 4519, 4651, 4748, 5110, 5242, 6180, 6709, 6765, 6818, 7158, 7278, 7791,
            7988, 8200, 8321, 8549, 8649, 9222, 9547, 9623, 9723, 9784]
adc_6531 = [704, 756, 913, 1234, 1624, 2601, 2975, 3168, 3313, 3530, 3602, 4072, 4181, 4398, 5876, 5936, 6397, 6605,
            6926, 6998, 7086, 7150, 7218, 7335, 7491, 7679, 8048, 8105, 8160, 8533, 8826, 8890, 9138]
adc_6530 = [261, 490, 647, 997, 1093, 1962, 2300, 2902, 3035, 3136, 3176, 3723, 4651, 4784, 5267, 5355, 5495, 5924,
            6625, 8068, 8120, 8301, 8633, 9174, 9403, 9559]
adc_6529 = [1347, 1503, 1781, 1809, 2179, 3686, 3900, 3940, 4470, 4663, 5784, 6385, 6649, 7250, 7539, 7812, 7848, 8092]
adc_6528 = [1178, 2541, 3124, 3176, 4350, 4929, 5315, 6048, 7022]
adc_6527 = [28, 92, 3107, 6625, 8585, 8946, 9643]
adc_6526 = [310, 611, 3216, 4390, 4420, 4965, 6144, 6517, 8309]
adc_6525 = [3216, 8056, 9703]
adc_6523 = [9295]
adc_6522 = [2167]
adc_6521 = [6926]
adc_6520 = [8321]
adc_6518 = [720, 9583]

levels = {
    6577: adc_6577, 6576: adc_6576, 6575: adc_6575, 6574: adc_6574, 6573: adc_6573, 6572: adc_6572,
    6571: adc_6571, 6570: adc_6570, 6569: adc_6569, 6568: adc_6568, 6567: adc_6567, 6566: adc_6566,
    6565: adc_6565, 6564: adc_6564, 6563: adc_6563, 6562: adc_6562, 6561: adc_6561, 6560: adc_6560,
    6559: adc_6559, 6558: adc_6558, 6557: adc_6557, 6556: adc_6556, 6555: adc_6555, 6554: adc_6554,
    6553: adc_6553, 6552: adc_6552, 6551: adc_6551, 6550: adc_6550, 6549: adc_6549, 6548: adc_6548,
    6547: adc_6547, 6546: adc_6546, 6545: adc_6545, 6544: adc_6544, 6543: adc_6543, 6542: adc_6542,
    6541: adc_6541, 6540: adc_6540, 6539: adc_6539, 6538: adc_6538, 6537: adc_6537, 6536: adc_6536,
    6535: adc_6535, 6534: adc_6534, 6533: adc_6533, 6532: adc_6532, 6531: adc_6531, 6530: adc_6530,
    6529: adc_6529, 6528: adc_6528, 6527: adc_6527, 6526: adc_6526, 6525: adc_6525, 6523: adc_6523,
    6522: adc_6522, 6521: adc_6521, 6520: adc_6520, 6518: adc_6518,
}

samples = []
counts = []
for level, xs in levels.items():
    samples.extend(xs)
    counts.extend([level] * len(xs))

fig, ax = plt.subplots(figsize=(10, 10))
ax.plot(samples, counts, 'k.', label='Samples\n$\\mu$ = 6549.95, $\\sigma$ = 7.92')
ax.set_title('Run 668, channel018, Pedestal')
ax.set_xlabel('Sample #')
ax.set_ylabel('ADC Counts')
ax.grid(True)
ax.legend(loc='upper right')
fig.subplots_adjust(left=0.081, right=0.985, top=0.965, bottom=0.058)
fig.savefig('out.png', dpi=100)
